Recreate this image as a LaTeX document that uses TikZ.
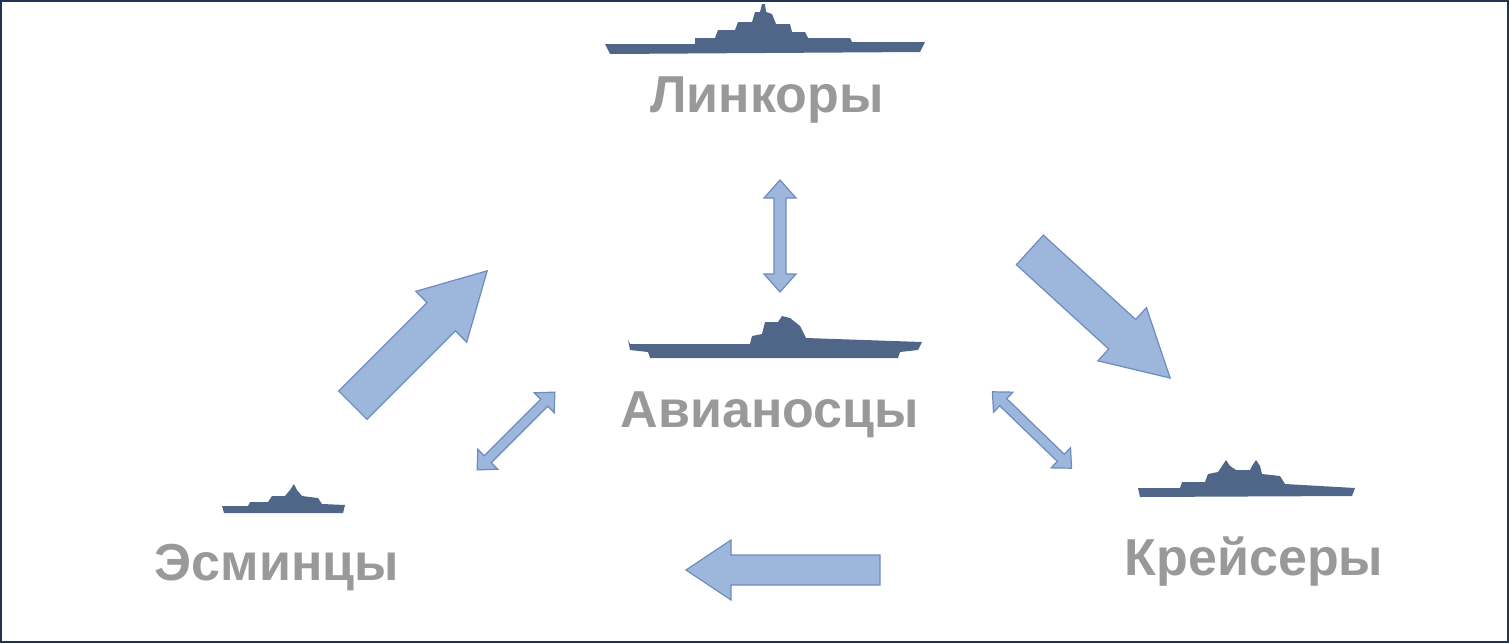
\documentclass[tikz,border=0pt]{standalone}
\usepackage{fontspec}
\setmainfont{Liberation Sans}
\definecolor{shipc}{HTML}{4F6689}
\definecolor{arrf}{HTML}{9DB6DC}
\definecolor{arrd}{HTML}{6C8BBE}
\definecolor{txt}{HTML}{999999}
\definecolor{frame}{HTML}{1F3550}
\begin{document}
\begin{tikzpicture}[x=1pt,y=-1pt,
  lbl/.style={font=\fontsize{52}{60}\selectfont\bfseries, text=txt, inner sep=0},
  arr/.style={fill=arrf, draw=arrd, line width=1.2pt, line join=miter},
  ship/.style={fill=shipc, draw=none}]
\useasboundingbox (0,0) rectangle (1509,643);
\draw[frame, line width=1.5pt] (1,1) rectangle (1508,642);
% labels
\node[lbl] (lin) at (767,100) {Линкоры};
\node[lbl] (avi) at (770,415) {Авианосцы};
\node[lbl] (esm) at (277,568) {Эсминцы};
\node[lbl] (kre) at (1254,562) {Крейсеры};
% battleship
\fill[ship] (605,44) -- (695,44) -- (695,38) -- (715,38) -- (718,30) -- (735,30) -- (738,22) -- (752,22) -- (755,12) -- (760,12) -- (762,4) -- (765,4) -- (766,12) -- (772,14) -- (776,24) -- (790,24) -- (792,32) -- (805,32) -- (808,38) -- (850,38) -- (852,42) -- (925,42) -- (920,52) -- (610,54) -- cycle;
% carrier
\fill[ship] (628,340) -- (630,344) -- (750,344) -- (752,336) -- (762,334) -- (765,322) -- (778,322) -- (782,316) -- (790,318) -- (800,326) -- (806,338) -- (922,342) -- (918,350) -- (900,352) -- (898,358) -- (650,358) -- (648,352) -- (630,350) -- cycle;
% cruiser
\fill[ship] (1138,488) -- (1180,488) -- (1182,482) -- (1205,482) -- (1208,474) -- (1218,472) -- (1222,466) -- (1226,460) -- (1230,466) -- (1236,470) -- (1250,470) -- (1252,466) -- (1256,460) -- (1260,466) -- (1262,474) -- (1280,476) -- (1285,484) -- (1320,486) -- (1355,488) -- (1352,496) -- (1140,497) -- cycle;
% destroyer
\fill[ship] (222,506) -- (248,506) -- (250,502) -- (268,502) -- (272,496) -- (285,496) -- (290,490) -- (294,484) -- (297,490) -- (302,496) -- (318,498) -- (322,504) -- (345,505) -- (343,513) -- (224,513) -- cycle;
% big arrows
\draw[arr, shift={(1100,314)}, rotate=-42.4] (-95,-20) -- (30,-20) -- (30,-36) -- (95,0) -- (30,36) -- (30,20) -- (-95,20) -- cycle;
\draw[arr, shift={(420,338)}, rotate=45] (-95,-20) -- (30,-20) -- (30,-36) -- (95,0) -- (30,36) -- (30,20) -- (-95,20) -- cycle;
\draw[arr, shift={(783,570)}, rotate=180] (-97,-15) -- (52,-15) -- (52,-30) -- (97,0) -- (52,30) -- (52,15) -- (-97,15) -- cycle;
% double arrows
\draw[arr, shift={(780,236)}, rotate=90] (-56,0) -- (-38,-16) -- (-38,-6) -- (38,-6) -- (38,-16) -- (56,0) -- (38,16) -- (38,6) -- (-38,6) -- (-38,16) -- cycle;
\draw[arr, shift={(516,431)}, rotate=45] (-55,0) -- (-40,-14) -- (-40,-5) -- (40,-5) -- (40,-14) -- (55,0) -- (40,14) -- (40,5) -- (-40,5) -- (-40,14) -- cycle;
\draw[arr, shift={(1032,430)}, rotate=-44] (-55,0) -- (-40,-14) -- (-40,-5) -- (40,-5) -- (40,-14) -- (55,0) -- (40,14) -- (40,5) -- (-40,5) -- (-40,14) -- cycle;
\end{tikzpicture}
\end{document}
